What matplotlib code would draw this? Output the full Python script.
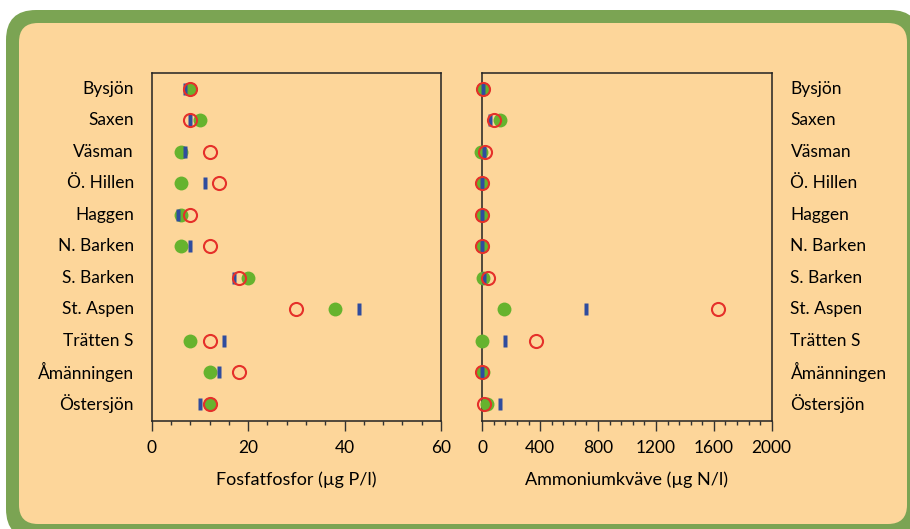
import matplotlib
matplotlib.use("Agg")
import matplotlib.pyplot as plt
from matplotlib.patches import FancyBboxPatch
from matplotlib.path import Path
from matplotlib.transforms import IdentityTransform
from matplotlib.ticker import MultipleLocator

plt.rcParams['font.family'] = ['Lato', 'DejaVu Sans']

lakes = ["Bysjön", "Saxen", "Väsman", "Ö. Hillen", "Haggen", "N. Barken",
         "S. Barken", "St. Aspen", "Trätten S", "Åmänningen", "Östersjön"]

# Fosfatfosfor (µg P/l): green dot, blue bar, red ring
p_green = [8, 10, 6, 6, 6, 6, 20, 38, 8, 12, 12]
p_blue = [7, 8, 7, 11, 5.5, 8, 17, 43, 15, 14, 10]
p_red = [8, 8, 12, 14, 8, 12, 18, 30, 12, 18, 12]

# Ammoniumkväve (µg N/l)
n_green = [5, 120, -10, 0, 0, 0, 5, 150, 0, 5, 35]
n_blue = [5, 50, 10, 0, 0, 0, 15, 720, 160, 0, 120]
n_red = [5, 80, 20, 0, 0, 0, 40, 1630, 370, 0, 15]

GREEN = "#66b32e"
BLUE = "#2f4c9e"
RED = "#e5302a"
PEACH = "#fdd69a"
FRAME = "#7ba453"

bar = Path([(-0.5, -1.5), (0.5, -1.5), (0.5, 1.5), (-0.5, 1.5), (-0.5, -1.5)],
           [Path.MOVETO, Path.LINETO, Path.LINETO, Path.LINETO, Path.CLOSEPOLY])

fig = plt.figure(figsize=(9.1, 5.29), dpi=100, facecolor="white")

# rounded green frame with peach inside
fig.patches.append(FancyBboxPatch((6, -10), 914, 529,
                                  boxstyle="round,pad=0,rounding_size=30",
                                  fc=FRAME, ec="none", zorder=-2,
                                  transform=IdentityTransform(), figure=fig))
fig.patches.append(FancyBboxPatch((19, 5), 888, 501,
                                  boxstyle="round,pad=0,rounding_size=19",
                                  fc=PEACH, ec="none", zorder=-1,
                                  transform=IdentityTransform(), figure=fig))

ax1 = fig.add_axes([0.1667, 0.2042, 0.318, 0.658])
ax2 = fig.add_axes([0.530, 0.2042, 0.318, 0.658])

ypos = list(range(len(lakes)))


def draw(ax, g, b, r, xmax, major, minor, xlabel):
    ax.set_facecolor(PEACH)
    ax.plot(g, ypos, ls="none", marker="o", ms=10, mfc=GREEN, mec="none",
            clip_on=False, zorder=4)
    ax.plot(b, ypos, ls="none", marker=bar, ms=8.6, mfc=BLUE, mec="none",
            clip_on=False, zorder=5)
    ax.plot(r, ypos, ls="none", marker="o", ms=9.4, mfc="none", mec=RED,
            mew=1.5, clip_on=False, zorder=6)
    ax.set_xlim(0, xmax)
    ax.set_ylim(10.54, -0.51)
    ax.set_yticks([])
    ax.xaxis.set_major_locator(MultipleLocator(major))
    ax.xaxis.set_minor_locator(MultipleLocator(minor))
    ax.tick_params(axis="x", which="major", direction="out", length=7,
                   width=1, color="#333333", labelsize=12.5, pad=7)
    ax.tick_params(axis="x", which="minor", direction="out", length=3,
                   width=1, color="#333333")
    for s in ax.spines.values():
        s.set_color("#222222")
        s.set_linewidth(1.1)
    ax.set_xlabel(xlabel, fontsize=13, labelpad=11)


draw(ax1, p_green, p_blue, p_red, 60, 20, 4, "Fosfatfosfor (µg P/l)")
draw(ax2, n_green, n_blue, n_red, 2000, 400, 80, "Ammoniumkväve (µg N/l)")

for y, name in zip(ypos, lakes):
    ax1.text(-0.062, y, name, transform=ax1.get_yaxis_transform(),
             ha="right", va="center", fontsize=12.5)
    ax2.text(1.065, y, name, transform=ax2.get_yaxis_transform(),
             ha="left", va="center", fontsize=12.5)

fig.savefig("out.png", dpi=100, facecolor=fig.get_facecolor())
